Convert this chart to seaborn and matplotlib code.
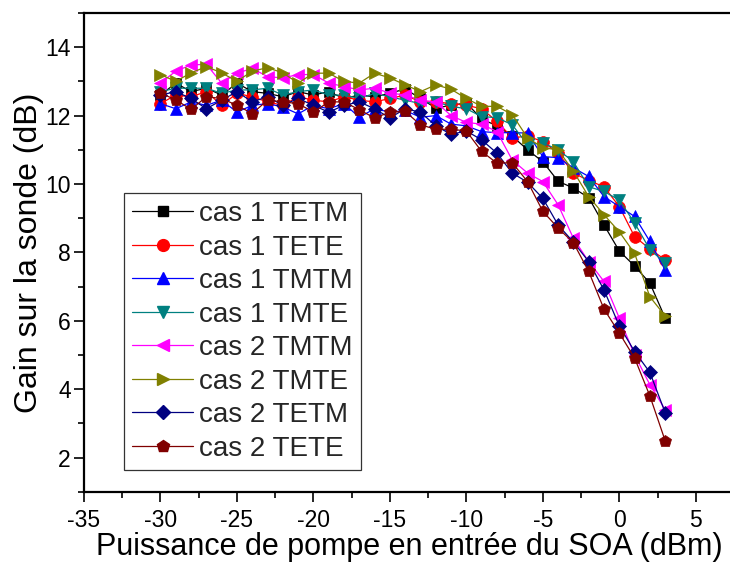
import matplotlib
matplotlib.use("Agg")
import matplotlib.pyplot as plt
import seaborn as sns
import pandas as pd
from matplotlib.lines import Line2D

sns.set_theme(style="white")
plt.rcParams['font.family'] = ['Liberation Sans', 'DejaVu Sans']
plt.rcParams['axes.unicode_minus'] = False

x_dbm = list(range(-30, 4))

cas1_TETM = [12.6, 12.95, 12.7, 12.8, 12.6, 12.95, 12.7, 12.65, 12.55, 12.7, 12.6, 12.7, 12.5, 12.6,
             12.55, 12.65, 12.78, 12.5, 12.22, 12.3, 12.37, 11.9, 11.7, 11.4, 11.0, 10.65, 10.08, 9.88,
             9.6, 8.8, 8.04, 7.6, 7.1, 6.08]
cas1_TETE = [12.35, 12.6, 12.55, 12.7, 12.3, 12.65, 12.55, 12.4, 12.3, 12.55, 12.45, 12.4, 12.55, 12.45,
             12.4, 12.5, 12.6, 12.4, 12.4, 12.35, 12.3, 12.2, 11.83, 11.35, 11.4, 11.24, 10.9, 10.32,
             10.1, 9.92, 9.34, 8.46, 8.1, 7.78]
cas1_TMTM = [12.35, 12.2, 12.4, 12.3, 12.45, 12.1, 12.3, 12.35, 12.25, 12.05, 12.3, 12.2, 12.35, 11.95,
             12.2, 12.1, 12.15, 11.95, 12.0, 11.75, 11.7, 11.53, 11.5, 11.5, 11.49, 10.8, 10.77, 10.47,
             10.22, 9.63, 9.34, 9.05, 8.32, 7.48]
cas1_TMTE = [12.7, 12.8, 12.8, 12.8, 12.65, 12.75, 12.75, 12.8, 12.6, 12.7, 12.75, 12.6, 12.6, 12.5,
             12.65, 12.55, 12.45, 12.35, 12.4, 12.27, 12.2, 11.97, 11.94, 11.73, 11.15, 11.2, 11.0, 10.65,
             9.92, 9.78, 9.53, 8.86, 8.08, 7.69]
cas2_TMTM = [12.95, 13.3, 13.48, 13.5, 12.95, 13.24, 13.38, 13.14, 13.1, 13.2, 13.2, 12.95, 12.85, 12.75,
             12.8, 12.66, 12.6, 12.45, 12.4, 12.0, 11.8, 11.75, 11.53, 10.7, 10.32, 10.07, 9.39, 8.41,
             7.73, 7.15, 6.08, 5.0, 4.13, 3.4]
cas2_TMTE = [13.2, 13.0, 13.25, 13.43, 13.25, 13.0, 13.3, 13.4, 13.25, 12.95, 13.24, 13.24, 13.0, 12.95,
             13.24, 13.1, 12.9, 12.7, 12.9, 12.77, 12.5, 12.27, 12.27, 12.03, 11.35, 11.06, 11.0, 10.37,
             9.63, 9.1, 8.6, 7.97, 6.7, 6.14]
cas2_TETM = [12.6, 12.7, 12.5, 12.2, 12.45, 12.7, 12.4, 12.55, 12.3, 12.5, 12.3, 12.1, 12.3, 12.4,
             12.2, 11.93, 12.2, 12.1, 11.7, 11.45, 11.55, 11.29, 10.9, 10.32, 10.05, 9.58, 8.8, 8.3,
             7.73, 6.9, 5.85, 5.1, 4.49, 3.31]
cas2_TETE = [12.66, 12.46, 12.18, 12.55, 12.5, 12.3, 12.06, 12.45, 12.4, 12.35, 12.1, 12.4, 12.4, 12.17,
             11.93, 12.1, 12.12, 11.73, 11.6, 11.6, 11.55, 10.95, 10.61, 10.62, 10.07, 9.2, 8.71, 8.28,
             7.44, 6.34, 5.64, 4.91, 3.8, 2.49]

labels = ["cas 1 TETM", "cas 1 TETE", "cas 1 TMTM", "cas 1 TMTE",
          "cas 2 TMTM", "cas 2 TMTE", "cas 2 TETM", "cas 2 TETE"]
series = [cas1_TETM, cas1_TETE, cas1_TMTM, cas1_TMTE, cas2_TMTM, cas2_TMTE, cas2_TETM, cas2_TETE]
colors = ["#000000", "#FF0000", "#0000FF", "#008080", "#FF00FF", "#808000", "#000080", "#800000"]
markers = ["s", "o", "^", "v", "<", ">", "D", "p"]
msizes = [7.5, 8.5, 9, 9, 9, 9, 7.5, 9]

fig = plt.figure(figsize=(7.3, 5.65), dpi=100)
ax = fig.add_axes([84 / 730, 73.3 / 565, 650 / 730, 478.7 / 565])

handles = []
for lab, ys, c, m, ms in zip(labels, series, colors, markers, msizes):
    df = pd.DataFrame({"x": x_dbm, "y": ys})
    sns.lineplot(data=df, x="x", y="y", ax=ax, color=c, marker=m, markersize=ms,
                 markeredgecolor=c, markeredgewidth=0.5, linewidth=0.9, legend=False)
    handles.append(Line2D([0], [0], color=c, marker=m, markersize=ms, markeredgecolor=c,
                          linewidth=0.9, label=lab))

ax.set_xlim(-35, 7.1)
ax.set_ylim(1, 15)
ax.set_xticks(range(-35, 6, 5))
ax.set_xticks([v + 2.5 for v in range(-35, 6, 5)], minor=True)
ax.set_yticks([2, 4, 6, 8, 10, 12, 14])
ax.set_yticks(range(1, 16), minor=True)
ax.tick_params(axis="both", which="major", direction="out", length=7.5, width=1.2,
               labelsize=16.5, color="black", labelcolor="black", bottom=True, left=True,
               top=False, right=False)
ax.tick_params(axis="x", which="major", pad=5)
ax.tick_params(axis="y", which="major", pad=2)
ax.tick_params(axis="both", which="minor", direction="out", length=4.5, width=1.2,
               color="black", bottom=True, left=True, top=False, right=False)
for sp in ax.spines.values():
    sp.set_color("black")
    sp.set_linewidth(1.6)
ax.spines["right"].set_visible(False)

ax.set_xlabel("Puissance de pompe en entrée du SOA (dBm)", fontsize=22, color="black", labelpad=0)
ax.set_ylabel("Gain sur la sonde (dB)", fontsize=23, color="black")
ax.yaxis.set_label_coords(-0.062, 0.5)
ax.grid(False)

leg = ax.legend(handles=handles, loc="lower left", bbox_to_anchor=(124 / 730, 95 / 565),
                bbox_transform=fig.transFigure, fontsize=20, frameon=True, fancybox=False,
                edgecolor="black", handlelength=2.2, handletextpad=0.2, labelspacing=0.27,
                borderpad=0.3, borderaxespad=0)
leg.get_frame().set_linewidth(0.9)

fig.savefig("out.png", dpi=100)
